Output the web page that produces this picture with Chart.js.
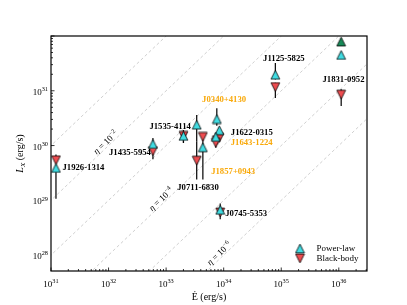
<!DOCTYPE html>
<html>
<head>
<meta charset="utf-8">
<script src="https://cdn.jsdelivr.net/npm/chart.js@4.4.0/dist/chart.umd.min.js"></script>
<style>
  html, body { margin: 0; padding: 0; background: #fff; }
</style>
</head>
<body>
<canvas id="lx-edot" width="407" height="305"></canvas>
<script>
var names = ['J1926-1314', 'J1435-5954', 'J1535-4114', 'J0711-6830', 'J1857+0943', 'J0340+4130',
             'J1622-0315', 'J1643-1224', 'J0745-5353', 'J1125-5825', 'J1831-0952'];
var edot = [1.22e31, 5.9e32, 2.0e33, 3.4e33, 4.35e33, 7.6e33, 8.4e33, 7.3e33, 8.7e33, 7.9e34, 1.1e36];

// power-law fits
var plLx = [3.9e29, 1.07e30, 1.5e30, 2.4e30, 9.3e29, 3.05e30, 1.9e30, 1.44e30, 6.7e28, 1.96e31, 4.5e31];
var plLo = [1.07e29, 9.5e29, 1.12e30, 1.2e30, 2.4e29, 2.3e30, 1.7e30, 1.3e30, 6.0e28, 1.6e31, null];
var plHi = [4.4e29, 1.38e30, 1.9e30, 3.6e30, 1.2e30, 4.8e30, 2.1e30, 1.6e30, 8.8e28, 3.2e31, null];

// black-body fits
var bbLx = [5.4e29, 7.9e29, 1.5e30, 5.3e29, 1.44e30, 1.25e30, 1.38e30, 1.12e30, 6.0e28, 1.17e31, 8.5e30];
var bbLo = [4.8e29, 5.6e29, 1.12e30, 2.4e29, 1.2e30, 1.1e30, 1.25e30, 9.1e29, 4.5e28, 7.4e30, 5.3e30];
var bbHi = [6.9e29, 9.0e29, 1.9e30, 1.2e30, 1.7e30, 1.4e30, 1.55e30, 1.25e30, 7.0e28, 1.4e31, 1.07e31];

// the single green point up at the top right
var otherEdot = [1.1e36];
var otherLx = [7.9e31];

// efficiency lines L = eta * Edot
var etaExp = [-1, -2, -3, -4, -5, -6];
var etaLabelExp = [-2, -4, -6];
var etaLabelEdot = [1.0e32, 9.2e32, 9.4e33];

var xTickExp = [31, 32, 33, 34, 35, 36];
var yTickExp = [28, 29, 30, 31];

var CYAN = '#40dce2';
var RED = '#ee4c50';
var GREEN = '#178a58';
var ORANGE = '#f9a90a';
var SERIF = '"Liberation Serif", "Times New Roman", serif';

// where each name goes, in pixels from its power-law point
var nameLayout = [
    {dx: 6.5, dy: 0, align: 'left'},
    {dx: -2, dy: 8.4, align: 'right'},
    {dx: -13.3, dy: -9.2, align: 'center'},
    {dx: 1.3, dy: 63.5, align: 'center'},
    {dx: 8.3, dy: 24.6, align: 'left', color: ORANGE},
    {dx: 7.3, dy: -19.3, align: 'center', color: ORANGE},
    {dx: 11.5, dy: 2.6, align: 'left'},
    {dx: 14.9, dy: 6, align: 'left', color: ORANGE},
    {dx: 5, dy: 3.6, align: 'left'},
    {dx: 8.5, dy: -16, align: 'center'},
    {dx: 2.3, dy: 24.3, align: 'center'}
];

// matplotlib-like triangle markers (as tall as they are wide)
function markerImg(fill, down) {
    var c = document.createElement('canvas');
    c.width = 11; c.height = 11;
    var g = c.getContext('2d');
    var h = 4.4;
    g.beginPath();
    if (down) {
        g.moveTo(5.5, 5.5 + h);
        g.lineTo(5.5 + h, 5.5 - h);
        g.lineTo(5.5 - h, 5.5 - h);
    } else {
        g.moveTo(5.5, 5.5 - h);
        g.lineTo(5.5 + h, 5.5 + h);
        g.lineTo(5.5 - h, 5.5 + h);
    }
    g.closePath();
    g.fillStyle = fill;
    g.fill();
    g.lineWidth = 0.8;
    g.strokeStyle = '#000';
    g.stroke();
    return c;
}
var upCyan = markerImg(CYAN, false);
var downRed = markerImg(RED, true);
var upGreen = markerImg(GREEN, false);

function pts(xs, ys) {
    var out = [];
    for (var i = 0; i < xs.length; i++) {
        if (ys[i] != null) out.push({x: xs[i], y: ys[i]});
    }
    return out;
}

var datasets = [];
etaExp.forEach(function(e) {
    var eta = Math.pow(10, e);
    datasets.push({
        data: [{x: 1e30, y: eta * 1e30}, {x: 1e38, y: eta * 1e38}],
        showLine: true,
        borderColor: '#c4c4c4',
        borderWidth: 0.8,
        borderDash: [3, 2.5],
        pointRadius: 0,
        order: 10
    });
});
datasets.push({
    label: 'other', data: pts(otherEdot, otherLx), isMarker: true,
    pointStyle: upGreen, pointRadius: 5, order: 3
});
datasets.push({
    label: 'Black-body', data: pts(edot, bbLx), isMarker: true,
    pointStyle: downRed, pointRadius: 5, order: 2
});
datasets.push({
    label: 'Power-law', data: pts(edot, plLx), isMarker: true,
    pointStyle: upCyan, pointRadius: 5, order: 1
});

// "10" with a raised exponent
function drawPow(ctx, exp, x, y, align, size) {
    ctx.font = size + 'px ' + SERIF;
    var wb = ctx.measureText('10').width;
    ctx.font = (size * 0.7) + 'px ' + SERIF;
    var we = ctx.measureText(exp).width;
    var x0 = align === 'center' ? x - (wb + we) / 2 : x - (wb + we);
    ctx.textAlign = 'left';
    ctx.textBaseline = 'alphabetic';
    ctx.font = size + 'px ' + SERIF;
    ctx.fillText('10', x0, y);
    ctx.font = (size * 0.7) + 'px ' + SERIF;
    ctx.fillText(exp, x0 + wb, y - size * 0.42);
}

function vbar(ctx, xs, ys, lo, hi, i) {
    if (hi[i] == null || lo[i] == null) return;
    var px = xs.getPixelForValue(edot[i]);
    ctx.beginPath();
    ctx.moveTo(px, ys.getPixelForValue(lo[i]));
    ctx.lineTo(px, ys.getPixelForValue(hi[i]));
    ctx.stroke();
}

var barsDone = false;
var decor = {
    id: 'decor',
    beforeDatasetsDraw: function() { barsDone = false; },
    beforeDatasetDraw: function(chart, args) {
        if (barsDone || !chart.data.datasets[args.index].isMarker) return;
        barsDone = true;
        var ctx = chart.ctx, xs = chart.scales.x, ys = chart.scales.y;
        ctx.save();
        ctx.strokeStyle = '#000';
        ctx.lineWidth = 1.2;
        for (var i = 0; i < edot.length; i++) {
            vbar(ctx, xs, ys, plLo, plHi, i);
            vbar(ctx, xs, ys, bbLo, bbHi, i);
        }
        ctx.restore();
    },
    afterDatasetsDraw: function(chart) {
        var ctx = chart.ctx, a = chart.chartArea, xs = chart.scales.x, ys = chart.scales.y;
        ctx.save();

        // eta labels along the lines
        etaLabelExp.forEach(function(e, k) {
            var eta = Math.pow(10, e);
            var ex = etaLabelEdot[k];
            var px = xs.getPixelForValue(ex), py = ys.getPixelForValue(eta * ex);
            var qx = xs.getPixelForValue(ex * 10), qy = ys.getPixelForValue(eta * ex * 10);
            var ang = Math.atan2(qy - py, qx - px);
            ctx.save();
            ctx.translate(px, py);
            ctx.rotate(ang);
            ctx.fillStyle = '#000';
            ctx.textBaseline = 'alphabetic';
            ctx.font = 'italic 9px ' + SERIF;
            var w1 = ctx.measureText('\u03b7').width;
            ctx.font = '9px ' + SERIF;
            var w2 = ctx.measureText(' = 10').width;
            ctx.font = '6.3px ' + SERIF;
            var w3 = ctx.measureText('\u2212' + (-e)).width;
            var x0 = -(w1 + w2 + w3) / 2, yb = -1.5;
            ctx.font = 'italic 9px ' + SERIF;
            ctx.fillText('\u03b7', x0, yb);
            ctx.font = '9px ' + SERIF;
            ctx.fillText(' = 10', x0 + w1, yb);
            ctx.font = '6.3px ' + SERIF;
            ctx.fillText('\u2212' + (-e), x0 + w1 + w2, yb - 3.8);
            ctx.restore();
        });

        // frame
        ctx.strokeStyle = '#000';
        ctx.lineWidth = 1.2;
        ctx.strokeRect(a.left, a.top, a.right - a.left, a.bottom - a.top);

        // inward ticks, major and minor
        ctx.lineWidth = 0.8;
        ctx.beginPath();
        for (var d = 30; d <= 37; d++) {
            for (var m = 1; m <= 9; m++) {
                var v = m * Math.pow(10, d);
                var len = m === 1 ? 3.5 : 2;
                var tx = xs.getPixelForValue(v);
                if (tx >= a.left - 0.5 && tx <= a.right + 0.5) {
                    ctx.moveTo(tx, a.bottom);
                    ctx.lineTo(tx, a.bottom - len);
                }
                var ty = ys.getPixelForValue(v);
                if (ty >= a.top - 0.5 && ty <= a.bottom + 0.5) {
                    ctx.moveTo(a.left, ty);
                    ctx.lineTo(a.left + len, ty);
                }
            }
        }
        ctx.stroke();

        ctx.fillStyle = '#000';
        xTickExp.forEach(function(e) {
            drawPow(ctx, String(e), xs.getPixelForValue(Math.pow(10, e)), a.bottom + 16, 'center', 9);
        });
        yTickExp.forEach(function(e) {
            drawPow(ctx, String(e), a.left - 3, ys.getPixelForValue(Math.pow(10, e)) + 4, 'right', 9);
        });

        // axis titles
        ctx.font = '10px ' + SERIF;
        ctx.textAlign = 'center';
        ctx.textBaseline = 'alphabetic';
        ctx.fillText('\u0116 (erg/s)', (a.left + a.right) / 2, 300);

        ctx.save();
        ctx.translate(23, (a.top + a.bottom) / 2);
        ctx.rotate(-Math.PI / 2);
        ctx.font = 'italic 10px ' + SERIF;
        var wL = ctx.measureText('L').width;
        ctx.font = 'italic 7px ' + SERIF;
        var wX = ctx.measureText('X').width;
        ctx.font = '10px ' + SERIF;
        var wR = ctx.measureText(' (erg/s)').width;
        var s0 = -(wL + wX + wR) / 2;
        ctx.textAlign = 'left';
        ctx.font = 'italic 10px ' + SERIF;
        ctx.fillText('L', s0, 0);
        ctx.font = 'italic 7px ' + SERIF;
        ctx.fillText('X', s0 + wL, 2.2);
        ctx.font = '10px ' + SERIF;
        ctx.fillText(' (erg/s)', s0 + wL + wX, 0);
        ctx.restore();

        // pulsar names
        ctx.font = 'bold 8.7px ' + SERIF;
        ctx.textBaseline = 'middle';
        names.forEach(function(n, i) {
            var lay = nameLayout[i];
            ctx.fillStyle = lay.color || '#000';
            ctx.textAlign = lay.align;
            ctx.fillText(n, xs.getPixelForValue(edot[i]) + lay.dx, ys.getPixelForValue(plLx[i]) + lay.dy);
        });

        // legend
        ctx.drawImage(upCyan, 300 - 5.5, 248.5 - 5.5);
        ctx.drawImage(downRed, 300 - 5.5, 258.5 - 5.5);
        ctx.fillStyle = '#000';
        ctx.font = '9px ' + SERIF;
        ctx.textAlign = 'left';
        ctx.textBaseline = 'middle';
        ctx.fillText('Power-law', 316.5, 248.3);
        ctx.fillText('Black-body', 316.5, 258.8);

        ctx.restore();
    }
};

var ctx = document.getElementById('lx-edot');
new Chart(ctx, {
    type: 'scatter',
    data: {datasets: datasets},
    options: {
        responsive: false,
        animation: false,
        layout: {padding: {left: 51, right: 40, top: 36, bottom: 34}},
        scales: {
            x: {type: 'logarithmic', display: false, min: 1e31, max: Math.pow(10, 36.49)},
            y: {type: 'logarithmic', display: false, min: Math.pow(10, 27.71), max: 1e32}
        },
        plugins: {
            legend: {display: false},
            tooltip: {enabled: false}
        }
    },
    plugins: [decor]
});
</script>
</body>
</html>
